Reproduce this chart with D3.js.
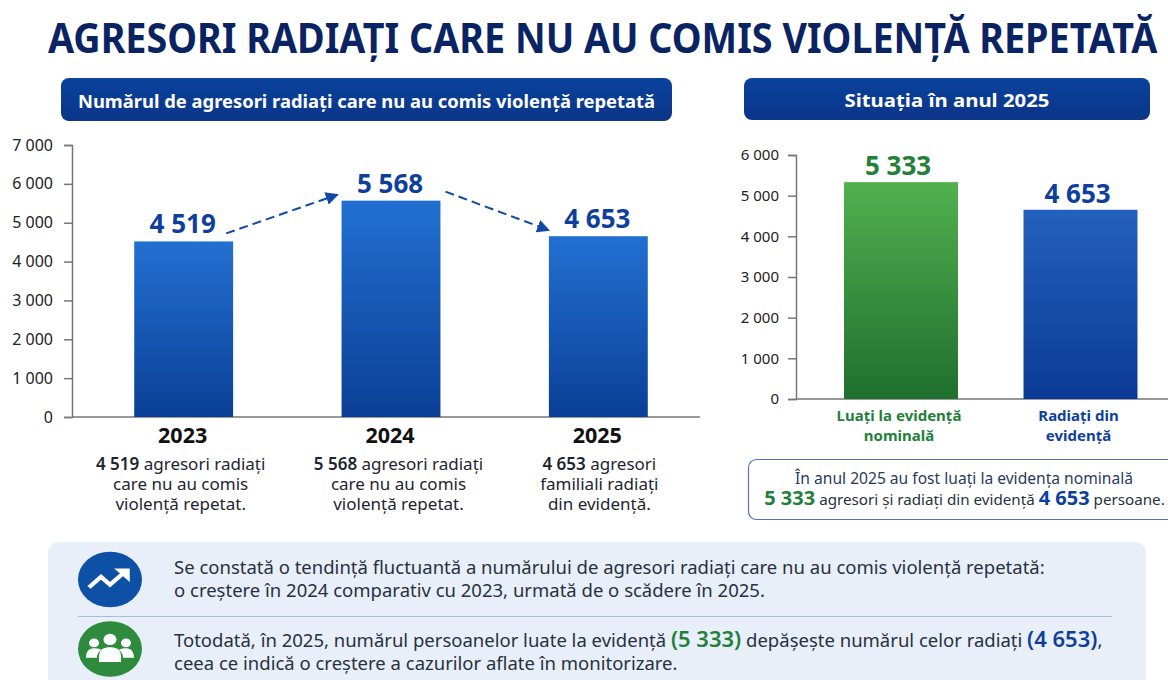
<!DOCTYPE html>
<html lang="ro">
<head>
<meta charset="utf-8">
<title>Agresori radiați</title>
<script src="https://cdn.jsdelivr.net/npm/d3@7"></script>
<style>
  html, body { margin: 0; padding: 0; background: #fff; }
  svg { display: block; }
  text { font-family: "Noto Sans", sans-serif; }
  .tick text { fill: #222; }
</style>
</head>
<body>
<div id="chart"></div>
<script>
// DATA
var years = ["2023", "2024", "2025"];
var radiati = [4519, 5568, 4653];
var yearNotes = [
  ["agresori radiați", "care nu au comis", "violență repetat."],
  ["agresori radiați", "care nu au comis", "violență repetat."],
  ["agresori", "familiali radiați", "din evidență."]
];
var ticksLeft = [0, 1000, 2000, 3000, 4000, 5000, 6000, 7000];

var statusLabels = ["Luați la evidență nominală", "Radiați din evidență"];
var statusLines = [["Luați la evidență", "nominală"], ["Radiați din", "evidență"]];
var statusValues = [5333, 4653];
var ticksRight = [0, 1000, 2000, 3000, 4000, 5000, 6000];

var w = 1168, h = 680;
var navy = "#0a2463", blue = "#0f3f9c", green = "#23803a", dark = "#27313f";

var fmt = d3.formatLocale({ decimal: ",", thousands: " ", grouping: [3], currency: ["", ""] }).format(",d");

var svg = d3.select("#chart").append("svg")
  .attr("width", w)
  .attr("height", h);

// gradients
var defs = svg.append("defs");
function gradient(id, top, bottom) {
  var g = defs.append("linearGradient").attr("id", id)
    .attr("x1", 0).attr("y1", 0).attr("x2", 0).attr("y2", 1);
  g.append("stop").attr("offset", "0%").attr("stop-color", top);
  g.append("stop").attr("offset", "100%").attr("stop-color", bottom);
}
gradient("barBlue", "#2270d2", "#0a3f96");
gradient("barBlue2", "#2460bd", "#0a3a96");
gradient("barGreen", "#52b04f", "#1f6f2e");
gradient("pill", "#0a429c", "#0b3589");

defs.append("marker")
  .attr("id", "arrow")
  .attr("viewBox", "0 0 10 10")
  .attr("refX", 9).attr("refY", 5)
  .attr("markerWidth", 13).attr("markerHeight", 13)
  .attr("markerUnits", "userSpaceOnUse")
  .attr("orient", "auto")
  .append("path")
  .attr("d", "M0,0L10,5L0,10Z")
  .attr("fill", "#0f4aa6");

// title, squeezed to the reference width
var title = svg.append("text")
  .attr("font-size", 41)
  .attr("font-weight", 700)
  .attr("fill", navy)
  .text("AGRESORI RADIAȚI CARE NU AU COMIS VIOLENȚĂ REPETATĂ");
title.attr("transform", "translate(48,53) scale(" + (1110 / title.node().getComputedTextLength()) + ",1)");

// section headers
function header(x, y, width, height, label, size, len) {
  svg.append("rect")
    .attr("x", x).attr("y", y)
    .attr("width", width).attr("height", height)
    .attr("rx", 8)
    .attr("fill", "url(#pill)");
  svg.append("text")
    .attr("x", x + width / 2).attr("y", y + height / 2 + 8)
    .attr("text-anchor", "middle")
    .attr("font-size", size)
    .attr("font-weight", 700)
    .attr("fill", "#fff")
    .attr("textLength", len)
    .attr("lengthAdjust", "spacingAndGlyphs")
    .text(label);
}
header(61, 78, 611, 43, "Numărul de agresori radiați care nu au comis violență repetată", 18, 577);
header(744, 78, 406, 42, "Situația în anul 2025", 18, 205);

// LEFT CHART
var xLeft = d3.scaleBand()
  .domain(years)
  .range([80, 702])
  .paddingInner(0.523)
  .paddingOuter(0.2615);

var yLeft = d3.scaleLinear()
  .domain([0, 7000])
  .range([417, 145]);

var left = svg.append("g");

left.append("g")
  .attr("transform", "translate(72,0)")
  .call(d3.axisLeft(yLeft).tickValues(ticksLeft).tickFormat(fmt).tickSize(8).tickPadding(11))
  .call(function(g) {
    g.selectAll("path, line").attr("stroke", "#777").attr("stroke-width", 1.5);
    g.selectAll("text").attr("font-size", 16).style("font-family", '"Noto Sans"');
  });

left.append("line")
  .attr("x1", 72).attr("x2", 700)
  .attr("y1", yLeft(0)).attr("y2", yLeft(0))
  .attr("stroke", "#777").attr("stroke-width", 1.5);

left.selectAll(".bar")
  .data(years)
  .enter()
  .append("rect")
  .attr("class", "bar")
  .attr("x", function(d) { return xLeft(d); })
  .attr("y", function(d, i) { return yLeft(radiati[i]); })
  .attr("width", xLeft.bandwidth())
  .attr("height", function(d, i) { return yLeft(0) - yLeft(radiati[i]); })
  .attr("fill", "url(#barBlue)");

left.selectAll(".val")
  .data(years)
  .enter()
  .append("text")
  .attr("class", "val")
  .attr("x", function(d) { return xLeft(d) + xLeft.bandwidth() / 2 - 1; })
  .attr("y", function(d, i) { return yLeft(radiati[i]) - 8; })
  .attr("text-anchor", "middle")
  .attr("font-size", 26)
  .attr("font-weight", 700)
  .attr("fill", blue)
  .text(function(d, i) { return fmt(radiati[i]); });

// dashed arrows between the bars
var bw = xLeft.bandwidth();
[
  { x1: xLeft(years[0]) + bw - 7, y1: yLeft(radiati[0]) - 8, x2: xLeft(years[1]) - 4, y2: yLeft(radiati[1]) - 6 },
  { x1: xLeft(years[1]) + bw + 5, y1: yLeft(radiati[1]) - 9, x2: xLeft(years[2]), y2: yLeft(radiati[2]) - 6 }
].forEach(function(a) {
  left.append("line")
    .attr("x1", a.x1).attr("y1", a.y1)
    .attr("x2", a.x2).attr("y2", a.y2)
    .attr("stroke", "#0f4aa6")
    .attr("stroke-width", 2)
    .attr("stroke-dasharray", "9 5")
    .attr("marker-end", "url(#arrow)");
});

// years and notes under the bars, the notes sit a little off the bar centres
var noteShift = [-3, 7.5, 1];
years.forEach(function(year, i) {
  var cx = xLeft(year) + bw / 2;
  left.append("text")
    .attr("x", cx - 1).attr("y", 443)
    .attr("text-anchor", "middle")
    .attr("font-size", 21.5)
    .attr("font-weight", 700)
    .attr("fill", "#111")
    .text(year);

  var note = left.append("text")
    .attr("text-anchor", "middle")
    .attr("font-size", 17)
    .attr("fill", "#1d2530");
  yearNotes[i].forEach(function(line, j) {
    var t = note.append("tspan").attr("x", cx + noteShift[i]).attr("y", 470 + j * 20);
    if (j === 0) {
      t.append("tspan").attr("font-weight", 600).text(fmt(radiati[i]) + " ");
      t.append("tspan").text(line);
    } else {
      t.text(line);
    }
  });
});

// RIGHT CHART
var xRight = d3.scaleBand()
  .domain(statusLabels)
  .range([811.25, 1170.25])
  .paddingInner(0.365)
  .paddingOuter(0.1825);

var yRight = d3.scaleLinear()
  .domain([0, 6000])
  .range([399, 155]);

var right = svg.append("g");

right.append("g")
  .attr("transform", "translate(796,0)")
  .call(d3.axisLeft(yRight).tickValues(ticksRight).tickFormat(fmt).tickSize(8).tickPadding(9))
  .call(function(g) {
    g.selectAll("path, line").attr("stroke", "#777").attr("stroke-width", 1.5);
    g.selectAll("text").attr("font-size", 15).style("font-family", '"Noto Sans"');
  });

right.append("line")
  .attr("x1", 796).attr("x2", 1168)
  .attr("y1", yRight(0)).attr("y2", yRight(0))
  .attr("stroke", "#777").attr("stroke-width", 1.5);

var statusFill = ["url(#barGreen)", "url(#barBlue2)"];
var statusText = [green, blue];

right.selectAll(".bar")
  .data(statusLabels)
  .enter()
  .append("rect")
  .attr("class", "bar")
  .attr("x", function(d) { return xRight(d); })
  .attr("y", function(d, i) { return yRight(statusValues[i]); })
  .attr("width", xRight.bandwidth())
  .attr("height", function(d, i) { return yRight(0) - yRight(statusValues[i]); })
  .attr("fill", function(d, i) { return statusFill[i]; });

right.selectAll(".val")
  .data(statusLabels)
  .enter()
  .append("text")
  .attr("class", "val")
  .attr("x", function(d) { return xRight(d) + xRight.bandwidth() / 2 - 3; })
  .attr("y", function(d, i) { return yRight(statusValues[i]) - 7; })
  .attr("text-anchor", "middle")
  .attr("font-size", 26)
  .attr("font-weight", 700)
  .attr("fill", function(d, i) { return statusText[i]; })
  .text(function(d, i) { return fmt(statusValues[i]); });

statusLabels.forEach(function(label, i) {
  statusLines[i].forEach(function(line, j) {
    right.append("text")
      .attr("x", xRight(label) + xRight.bandwidth() / 2 - 2)
      .attr("y", 421 + j * 20)
      .attr("text-anchor", "middle")
      .attr("font-size", 15)
      .attr("font-weight", 700)
      .attr("fill", statusText[i])
      .text(line);
  });
});

// summary box on the right
svg.append("rect")
  .attr("x", 748.5).attr("y", 459.5)
  .attr("width", 440).attr("height", 60)
  .attr("rx", 8)
  .attr("fill", "#fff")
  .attr("stroke", "#5573b4")
  .attr("stroke-width", 1.2);

svg.append("text")
  .attr("x", 964).attr("y", 484)
  .attr("text-anchor", "middle")
  .attr("font-size", 15.6)
  .attr("fill", "#2a3a5c")
  .text("În anul 2025 au fost luați la evidența nominală");

// text with coloured numbers
function rich(parent, x, y, size, parts, anchor) {
  var t = parent.append("text")
    .attr("x", x).attr("y", y)
    .attr("text-anchor", anchor || "start")
    .attr("font-size", size)
    .attr("fill", dark);
  parts.forEach(function(p) {
    var s = t.append("tspan").text(p.text);
    if (p.color) s.attr("fill", p.color);
    if (p.big) s.attr("font-size", p.big).attr("font-weight", p.weight || 700);
  });
  return t;
}

rich(svg, 964.5, 505, 15.2, [
  { text: fmt(statusValues[0]), color: green, big: 20 },
  { text: " agresori și radiați din evidență " },
  { text: fmt(statusValues[1]), color: blue, big: 20 },
  { text: " persoane." }
], "middle");

// BOTTOM PANEL
svg.append("rect")
  .attr("x", 48).attr("y", 542)
  .attr("width", 1098).attr("height", 160)
  .attr("rx", 10)
  .attr("fill", "#e8eff9");

svg.append("line")
  .attr("x1", 78).attr("x2", 1112)
  .attr("y1", 616.5).attr("y2", 616.5)
  .attr("stroke", "#a9bcd8")
  .attr("stroke-width", 1.2);

// trend icon (the reference is slightly squashed, so are its circles)
var trend = svg.append("g").attr("transform", "translate(110,579.5) scale(1,0.87)");
trend.append("circle").attr("r", 32).attr("fill", "#0e50a6");
trend.append("path")
  .attr("d", "M-21,9L-9,-3L0,6L14,-8")
  .attr("fill", "none")
  .attr("stroke", "#fff")
  .attr("stroke-width", 4.5);
trend.append("path")
  .attr("d", "M6,-12L19,-12L19,1Z")
  .attr("fill", "#fff")
  .attr("stroke", "#fff")
  .attr("stroke-width", 1.5);

// people icon
var people = svg.append("g").attr("transform", "translate(110,649) scale(1,0.87)");
people.append("circle").attr("r", 32).attr("fill", "#2e8a3c");
people.selectAll(".head")
  .data([[-16, -7, 5], [0, -11, 6.5], [16, -7, 5]])
  .enter()
  .append("circle")
  .attr("class", "head")
  .attr("cx", function(d) { return d[0]; })
  .attr("cy", function(d) { return d[1]; })
  .attr("r", function(d) { return d[2]; })
  .attr("fill", "#fff");
people.append("path")
  .attr("d", "M-24,10C-24,0 -19,-1 -15,-1C-12,-1 -10,0 -9,1C-12,4 -13,7 -13,10Z")
  .attr("fill", "#fff");
people.append("path")
  .attr("d", "M24,10C24,0 19,-1 15,-1C12,-1 10,0 9,1C12,4 13,7 13,10Z")
  .attr("fill", "#fff");
people.append("path")
  .attr("d", "M-11,15L-11,9C-11,0 -6,-2 0,-2C6,-2 11,0 11,9L11,15Z")
  .attr("fill", "#fff");

// panel text
var panelSize = 18.5;
rich(svg, 174, 574, panelSize, [
  { text: "Se constată o tendință fluctuantă a numărului de agresori radiați care nu au comis violență repetată:" }
]);
rich(svg, 174, 597, panelSize, [
  { text: "o creștere în 2024 comparativ cu 2023, urmată de o scădere în 2025." }
]);
rich(svg, 174, 647, panelSize, [
  { text: "Totodată, în 2025, numărul persoanelor luate la evidență " },
  { text: "(" + fmt(statusValues[0]) + ")", color: green, big: 22, weight: 600 },
  { text: " depășește numărul celor radiați " },
  { text: "(" + fmt(statusValues[1]) + ")", color: blue, big: 22, weight: 600 },
  { text: "," }
]);
rich(svg, 174, 670, panelSize, [
  { text: "ceea ce indică o creștere a cazurilor aflate în monitorizare." }
]);
</script>
</body>
</html>
